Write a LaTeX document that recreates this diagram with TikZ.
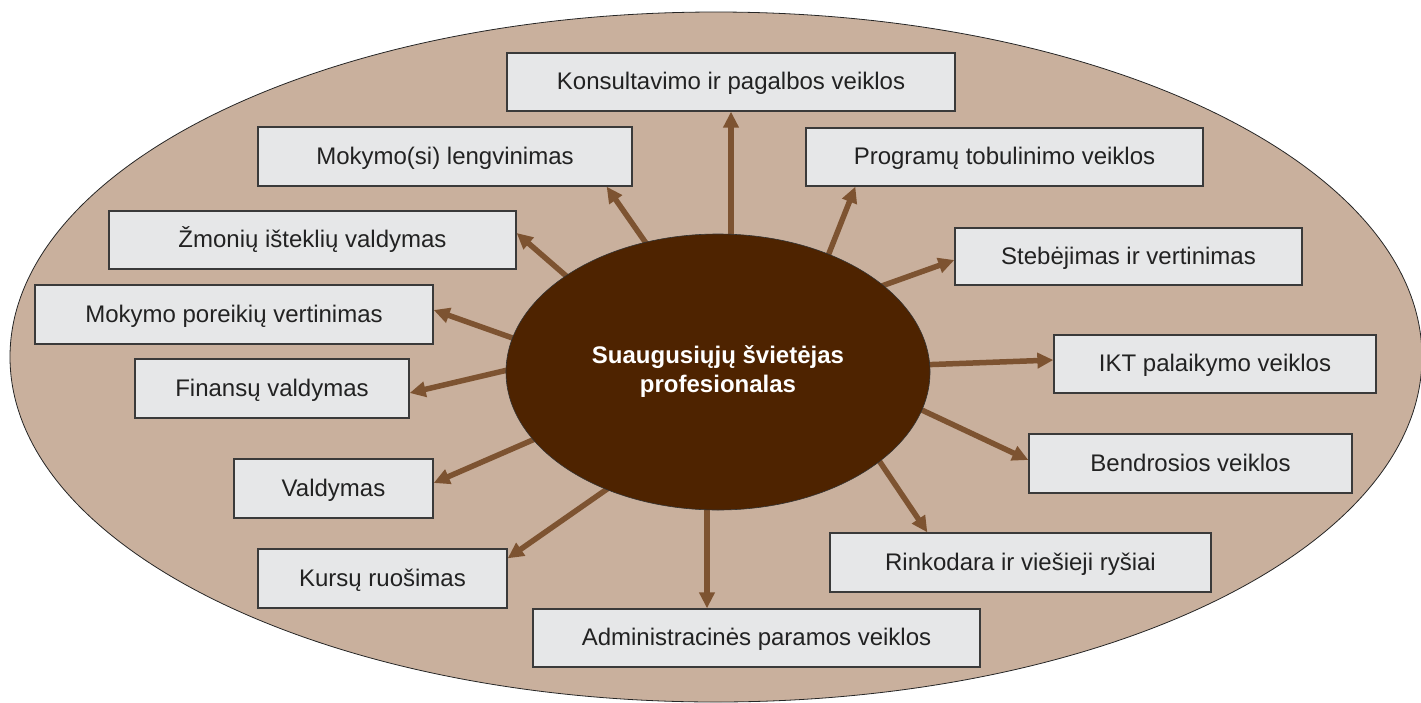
\documentclass[tikz,border=0pt]{standalone}
\usepackage{fontspec}
\setmainfont{Liberation Sans}
\usetikzlibrary{shapes.geometric,arrows.meta,calc}
\pgfdeclarelayer{back}
\pgfdeclarelayer{mid}
\pgfsetlayers{back,mid,main}
\definecolor{outerfill}{HTML}{C9B09D}
\definecolor{core}{HTML}{4E2300}
\definecolor{boxfill}{HTML}{E6E7E8}
\definecolor{arrowc}{HTML}{7D5331}
\definecolor{boxline}{HTML}{3A3A3A}
\definecolor{textc}{HTML}{222222}
\begin{document}
\begin{tikzpicture}[x=1pt,y=-1pt,
  box/.style={draw=boxline, line width=1.3pt, fill=boxfill, minimum height=58pt,
    inner sep=0pt, font=\fontsize{24}{28}\selectfont, text=textc, text height=17pt, text depth=2pt},
  arr/.style={draw=arrowc, line width=5.5pt, -{Triangle[length=16pt,width=15pt]}}]
\useasboundingbox (0,0) rectangle (1421,702);
\begin{pgfonlayer}{back}
\draw[fill=outerfill, draw=black!85, line width=0.8pt] (716,357) ellipse [x radius=706pt, y radius=345pt];
\end{pgfonlayer}

\node[ellipse, fill=core, draw=black!80, line width=0.6pt, minimum width=424pt, minimum height=276pt,
  inner sep=0pt, align=center, text=white, font=\bfseries\fontsize{24}{29}\selectfont] (c) at (718,372)
  {Suaugusiųjų švietėjas\\profesionalas};

\node[box, minimum width=448pt] (b1) at (731,82) {Konsultavimo ir pagalbos veiklos};
\node[box, minimum width=374pt, minimum height=59pt] (b2) at (445,156.5) {Mokymo(si) lengvinimas};
\node[box, minimum width=407pt] (b3) at (312.5,240) {Žmonių išteklių valdymas};
\node[box, minimum width=398pt, minimum height=59pt] (b4) at (234,314.5) {Mokymo poreikių vertinimas};
\node[box, minimum width=274pt, minimum height=59pt] (b5) at (272,388.5) {Finansų valdymas};
\node[box, minimum width=199pt, minimum height=59pt] (b6) at (333.5,488.5) {Valdymas};
\node[box, minimum width=249pt, minimum height=59pt] (b7) at (382.5,578.5) {Kursų ruošimas};
\node[box, minimum width=447pt] (b8) at (756.5,638) {Administracinės paramos veiklos};
\node[box, minimum width=381pt, minimum height=59pt] (b9) at (1020.5,562.5) {Rinkodara ir viešieji ryšiai};
\node[box, minimum width=323pt, minimum height=59pt] (b10) at (1190.5,463.5) {Bendrosios veiklos};
\node[box, minimum width=322pt] (b11) at (1215,364) {IKT palaikymo veiklos};
\node[box, minimum width=347pt, minimum height=57pt] (b12) at (1128.5,256.5) {Stebėjimas ir vertinimas};
\node[box, minimum width=397pt] (b13) at (1004.5,157) {Programų tobulinimo veiklos};

\coordinate (t1) at (b1.south);
\coordinate (t8) at ([xshift=-49.5pt]b8.north);

\begin{pgfonlayer}{mid}
\draw[arr] ([yshift=-6pt]t1 |- c.north) -- (t1);
\draw[arr] ($(c.center)!0.96!(c.119.5)$) -- ([xshift=-26pt]b2.south east);
\draw[arr] ($(c.center)!0.96!(c.148.6)$) -- ([yshift=7pt]b3.east);
\draw[arr] ($(c.center)!0.96!(c.171.2)$) -- ([yshift=4.5pt]b4.east);
\draw[arr] ($(c.center)!0.96!(c.179.5)$) -- ([yshift=-4.5pt]b5.east);
\draw[arr] ($(c.center)!0.96!(c.200.4)$) -- ([yshift=5.5pt]b6.east);
\draw[arr] ($(c.center)!0.96!(c.227.5)$) -- ([yshift=-10pt]b7.north east);
\draw[arr] ([yshift=6pt]t8 |- c.south) -- (t8);
\draw[arr] ($(c.center)!0.96!(c.332.1)$) -- ([xshift=98pt]b9.north west);
\draw[arr] ($(c.center)!0.96!(c.350.9)$) -- ([yshift=3.5pt]b10.west);
\draw[arr] ($(c.center)!0.96!(c.2.7)$) -- ([yshift=4pt]b11.west);
\draw[arr] ($(c.center)!0.96!(c.28.1)$) -- ([yshift=-3.5pt]b12.west);
\draw[arr] ($(c.center)!0.96!(c.46.5)$) -- ([xshift=50pt]b13.south west);
\end{pgfonlayer}
\end{tikzpicture}
\end{document}
